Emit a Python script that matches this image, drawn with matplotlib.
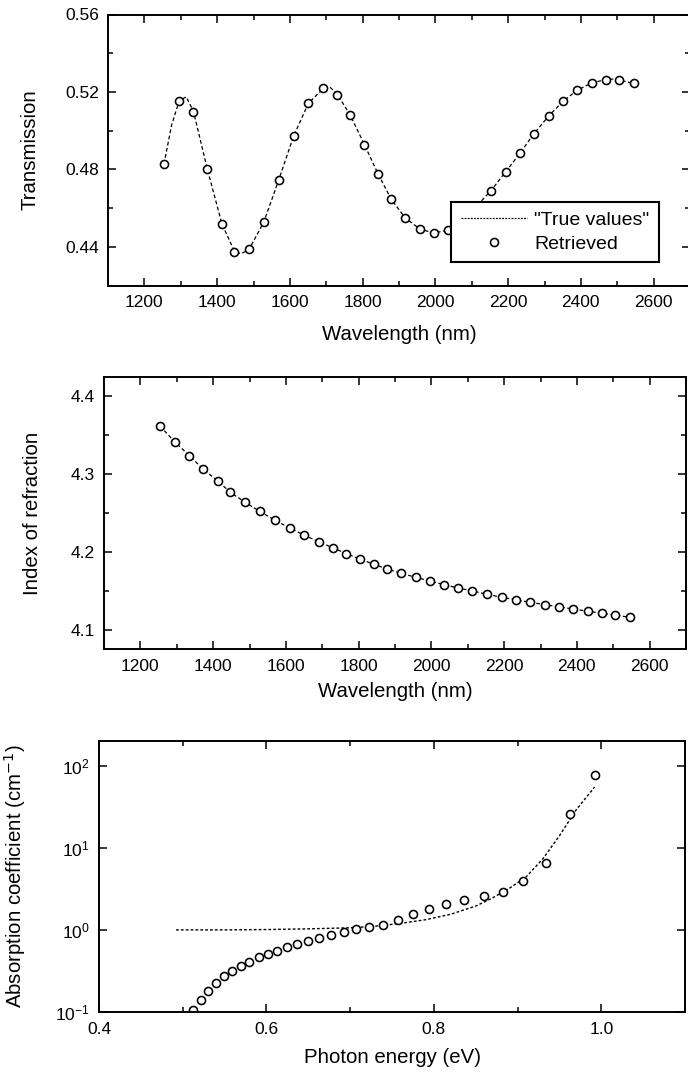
import matplotlib
matplotlib.use("Agg")
import matplotlib.pyplot as plt
from matplotlib.ticker import MultipleLocator, LogLocator, NullLocator, FixedLocator

plt.rcParams['font.family'] = ['Liberation Sans', 'DejaVu Sans']

# ---------------- Data ----------------
# Panel 1: transmission
wl_ret = [1254, 1296, 1335, 1372, 1413, 1447, 1487, 1528, 1569, 1610, 1651, 1692,
          1730, 1766, 1805, 1842, 1878, 1917, 1957, 1995, 2034, 2073, 2113, 2153,
          2193, 2233, 2271, 2311, 2351, 2390, 2430, 2469, 2506, 2546]
T_ret = [0.4829, 0.5151, 0.5095, 0.4803, 0.4520, 0.4376, 0.4389, 0.4527, 0.4744,
         0.4971, 0.5142, 0.5218, 0.5187, 0.5080, 0.4928, 0.4779, 0.4648, 0.4550,
         0.4493, 0.4472, 0.4486, 0.4535, 0.4610, 0.4691, 0.4787, 0.4885, 0.4985,
         0.5075, 0.5152, 0.5209, 0.5247, 0.5264, 0.5261, 0.5244]
wl_true = [1254, 1275, 1296, 1315, 1335, 1372, 1413, 1447, 1465, 1487, 1528, 1569,
           1610, 1651, 1692, 1710, 1730, 1766, 1805, 1842, 1878, 1917, 1957, 1995,
           2034, 2073, 2113, 2153, 2193, 2233, 2271, 2311, 2351, 2390, 2430, 2469,
           2490, 2506, 2546]
T_true = [0.4829, 0.5030, 0.5155, 0.5175, 0.5100, 0.4810, 0.4520, 0.4380, 0.4365,
          0.4385, 0.4527, 0.4744, 0.4971, 0.5142, 0.5218, 0.5225, 0.5190, 0.5080,
          0.4928, 0.4779, 0.4648, 0.4550, 0.4493, 0.4472, 0.4486, 0.4535, 0.4610,
          0.4691, 0.4787, 0.4885, 0.4985, 0.5075, 0.5152, 0.5209, 0.5247, 0.5264,
          0.5267, 0.5261, 0.5244]

# Panel 2: index of refraction
n_ret = [4.3615, 4.3406, 4.3235, 4.3065, 4.2910, 4.2766, 4.2641, 4.2521, 4.2410,
         4.2308, 4.2214, 4.2128, 4.2051, 4.1979, 4.1906, 4.1842, 4.1782, 4.1726,
         4.1675, 4.1628, 4.1581, 4.1538, 4.1500, 4.1457, 4.1419, 4.1385, 4.1355,
         4.1325, 4.1295, 4.1269, 4.1239, 4.1214, 4.1188, 4.1162]

# Panel 3: absorption coefficient
E_ret = [0.5121, 0.5215, 0.5304, 0.5399, 0.5493, 0.5587, 0.5691, 0.5791, 0.5906,
         0.6016, 0.6131, 0.6246, 0.6366, 0.6497, 0.6633, 0.6774, 0.6921, 0.7072,
         0.7229, 0.7396, 0.7569, 0.7747, 0.7946, 0.8150, 0.8364, 0.8594, 0.8830,
         0.9070, 0.9337, 0.9624, 0.9923]
a_ret = [0.105, 0.1416, 0.182, 0.223, 0.2716, 0.312, 0.359, 0.409, 0.462, 0.507,
         0.561, 0.616, 0.676, 0.742, 0.800, 0.869, 0.937, 1.019, 1.087, 1.161,
         1.334, 1.578, 1.782, 2.05, 2.31, 2.585, 2.92, 3.93, 6.62, 26.0, 77.3]
E_true = [0.492, 0.55, 0.60, 0.65, 0.70, 0.73, 0.76, 0.79, 0.82, 0.85, 0.87,
          0.89, 0.91, 0.93, 0.95, 0.97, 0.992]
a_true = [1.00, 1.00, 1.01, 1.03, 1.06, 1.11, 1.20, 1.33, 1.55, 1.95, 2.45,
          3.2, 4.4, 7.3, 14.0, 29.0, 55.0]

xticks_wl = [1200, 1400, 1600, 1800, 2000, 2200, 2400, 2600]
yticks_T = [0.44, 0.48, 0.52, 0.56]
yticks_n = [4.1, 4.2, 4.3, 4.4]
xticks_E = [0.4, 0.6, 0.8, 1.0]

# ---------------- Figure ----------------
W, H = 688, 1073
fig = plt.figure(figsize=(W / 100, H / 100), dpi=100)

def axes_px(left, right, top, bottom):
    return fig.add_axes([left / W, (H - bottom) / H, (right - left) / W, (bottom - top) / H])

ax1 = axes_px(108, 690, 14.5, 285.7)
ax2 = axes_px(104, 686, 377, 649)
ax3 = axes_px(99, 685, 741, 1012)

TICKFS = 12.5
LABELFS = 14.7
mk = dict(marker='o', linestyle='none', markersize=5.8, markerfacecolor='white',
          markeredgecolor='black', markeredgewidth=1.15)

def style(ax):
    for s in ax.spines.values():
        s.set_linewidth(1.4)
    ax.tick_params(which='both', direction='in', top=True, right=True,
                   labelsize=TICKFS, width=1.1)
    ax.tick_params(which='major', length=6)
    ax.tick_params(which='minor', length=3.5)
    ax.tick_params(axis='x', pad=7)
    ax.tick_params(axis='y', pad=6.5)

# Panel 1
ax1.plot(wl_true, T_true, color='black', linewidth=0.9, linestyle=(0, (3, 2)),
         label='"True values"')
ax1.plot(wl_ret, T_ret, label='Retrieved', **mk)
ax1.set_xlim(1100, 2700)
ax1.set_ylim(0.42, 0.56)
ax1.xaxis.set_major_locator(FixedLocator(xticks_wl))
ax1.xaxis.set_minor_locator(MultipleLocator(100))
ax1.yaxis.set_major_locator(FixedLocator(yticks_T))
ax1.yaxis.set_minor_locator(MultipleLocator(0.02))
ax1.set_yticklabels(['%.2f' % v for v in yticks_T])
ax1.set_xlabel('Wavelength (nm)', fontsize=LABELFS)
ax1.set_ylabel('Transmission', fontsize=LABELFS)
ax1.xaxis.set_label_coords(0.5, -0.145)
ax1.yaxis.set_label_coords(-0.118, 0.5)
style(ax1)
leg = ax1.legend(loc='upper left', bbox_to_anchor=(0.589, 0.309), fontsize=14,
                 frameon=True, fancybox=False, framealpha=1, edgecolor='black',
                 borderpad=0.5, handlelength=3.4, labelspacing=0.3, handletextpad=0.4,
                 borderaxespad=0)
leg.get_frame().set_linewidth(1.5)
leg.get_lines()[0].set_linestyle((0, (1.5, 1)))

# Panel 2
ax2.plot(wl_ret, n_ret, color='black', linewidth=0.9, linestyle=(0, (3, 2)))
ax2.plot(wl_ret, n_ret, **mk)
ax2.set_xlim(1100, 2700)
ax2.set_ylim(4.0755, 4.4245)
ax2.xaxis.set_major_locator(FixedLocator(xticks_wl))
ax2.xaxis.set_minor_locator(MultipleLocator(100))
ax2.yaxis.set_major_locator(FixedLocator(yticks_n))
ax2.yaxis.set_minor_locator(MultipleLocator(0.05))
ax2.set_yticklabels(['%.1f' % v for v in yticks_n])
ax2.set_xlabel('Wavelength (nm)', fontsize=LABELFS)
ax2.set_ylabel('Index of refraction', fontsize=LABELFS)
ax2.xaxis.set_label_coords(0.5, -0.12)
ax2.yaxis.set_label_coords(-0.1065, 0.5)
style(ax2)

# Panel 3
ax3.plot(E_true, a_true, color='black', linewidth=1.0, linestyle=(0, (2, 1.5)))
ax3.plot(E_ret, a_ret, **mk)
ax3.set_yscale('log')
ax3.set_xlim(0.4, 1.1)
ax3.set_ylim(0.1, 200)
ax3.xaxis.set_major_locator(FixedLocator(xticks_E))
ax3.xaxis.set_minor_locator(MultipleLocator(0.1))
ax3.set_xticklabels(['%.1f' % v for v in xticks_E])
ax3.yaxis.set_major_locator(LogLocator(base=10, numticks=10))
ax3.yaxis.set_minor_locator(NullLocator())
ax3.set_xlabel('Photon energy (eV)', fontsize=LABELFS)
ax3.set_ylabel('Absorption coefficient (cm$^{-1}$)', fontsize=LABELFS)
ax3.xaxis.set_label_coords(0.5, -0.133)
ax3.yaxis.set_label_coords(-0.121, 0.5)
style(ax3)

fig.savefig('out.png', dpi=100)
